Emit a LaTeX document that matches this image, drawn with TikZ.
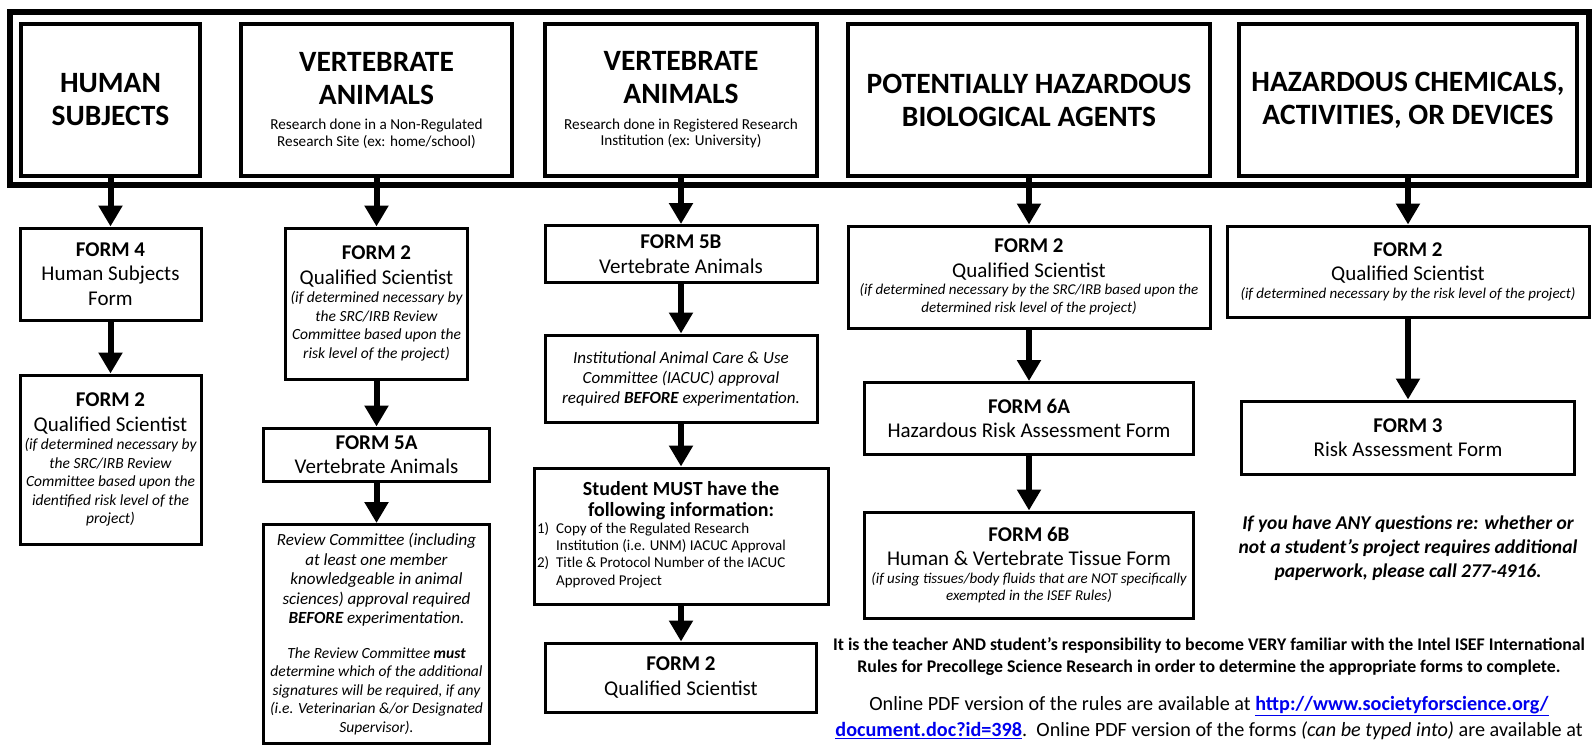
\documentclass[tikz,border=0pt]{standalone}
\usepackage{fontspec}
\setmainfont{Carlito}
\usetikzlibrary{arrows.meta}
\setlength{\parindent}{0pt}

\definecolor{linkblue}{RGB}{0,0,238}

\newcommand{\headtxt}{\fontsize{29.5}{33}\selectfont\bfseries}
\newcommand{\headsub}{\fontsize{15.2}{16.5}\selectfont}
\newcommand{\formtxt}{\fontsize{21}{24.5}\selectfont}
\newcommand{\notebig}{\fontsize{15.5}{18.5}\selectfont\itshape}
\newcommand{\notemid}{\fontsize{15}{17.5}\selectfont\itshape}
\newcommand{\weblink}[1]{\textcolor{linkblue}{\bfseries\underline{#1}}}

\tikzset{
  headbox/.style={draw, line width=4.5pt, align=flush center, inner sep=0pt,
    minimum height=152pt, minimum width=#1, text width=#1},
  formbox/.style={draw, line width=3pt, align=flush center, inner sep=0pt,
    font=\formtxt, minimum width=#1, text width=#1},
  flowarrow/.style={line width=6pt, -{Triangle[width=23pt,length=21pt]}},
  freetext/.style={align=center, inner sep=0pt},
}

\begin{document}
\begin{tikzpicture}[x=1pt, y=-1pt]
    \useasboundingbox (0,0) rectangle (1595,744);

    % frame round the headings
    \draw[line width=5.5pt] (10,12) rectangle (1589,185);

    \node[headbox=179pt] (human) at (110.5,100) {\headtxt HUMAN\\SUBJECTS\par};
    \node[headbox=271pt] (vertnr) at (376.5,100) {{\headtxt VERTEBRATE\\ANIMALS\par}\vskip 9pt
        {\headsub Research done in a Non-Regulated\\Research Site (ex: home/school)\par}};
    \node[headbox=272pt] (vertri) at (681,100) {{\headtxt VERTEBRATE\\ANIMALS\par}\vskip 9pt
        {\headsub Research done in Registered Research\\Institution (ex: University)\par}};
    \node[headbox=362pt] (bio) at (1029,100) {\headtxt POTENTIALLY HAZARDOUS\\BIOLOGICAL AGENTS\par};
    \node[headbox=338pt] (chem) at (1408,100) {\headtxt HAZARDOUS CHEMICALS,\\ACTIVITIES, OR DEVICES\par};

    % human subjects
    \node[formbox=181pt, minimum height=92pt] (formfour) at (110.5,274) {{\bfseries FORM 4}\\Human Subjects\\Form\par};
    \node[formbox=181pt, minimum height=169pt] (qsone) at (110.5,459.5) {{\bfseries FORM 2}\\Qualified Scientist\par
        {\notebig (if determined necessary by\\the SRC/IRB Review\\Committee based upon the\\identified risk level of the\\project)\par}};

    % vertebrate animals, non-regulated site
    \node[formbox=182pt, minimum height=151pt] (qstwo) at (376.5,303.5) {{\bfseries FORM 2}\\Qualified Scientist\par
        {\notebig (if determined necessary by\\the SRC/IRB Review\\Committee based upon the\\risk level of the project)\par}};
    \node[formbox=226pt, minimum height=53pt] (formfivea) at (376.5,454.5) {{\bfseries FORM 5A}\\Vertebrate Animals\par};
    \node[formbox=226pt, anchor=north, inner ysep=9pt] (review) at (376.5,523) {{\fontsize{17}{19.4}\selectfont\itshape
        Review Committee (including\\at least one member\\knowledgeable in animal\\sciences) approval required\\\textbf{BEFORE} experimentation.\par}
        \vskip 16pt
        {\notebig The Review Committee \textbf{must}\\determine which of the additional\\signatures will be required, if any\\(i.e. Veterinarian \&/or Designated\\Supervisor).\par}};

    % vertebrate animals, registered institution
    \node[formbox=272pt, minimum height=57pt] (formfiveb) at (681,254) {{\bfseries FORM 5B}\\Vertebrate Animals\par};
    \node[formbox=272pt, minimum height=87pt] (iacuc) at (681,378.5) {\fontsize{17}{20}\selectfont\itshape
        Institutional Animal Care \& Use\\Committee (IACUC) approval\\required \textbf{BEFORE} experimentation.\par};
    \node[formbox=294pt, minimum height=136pt] (student) at (681,536) {{\fontsize{20}{21}\selectfont\bfseries
        Student MUST have the\\following information:\par}
        {\fontsize{15}{17.3}\selectfont\raggedright\hspace*{3pt}\begin{tabular}{@{}l@{\hspace{7pt}}l@{}}
        1) & Copy of the Regulated Research\\ & Institution (i.e. UNM) IACUC Approval\\
        2) & Title \& Protocol Number of the IACUC\\ & Approved Project\end{tabular}\par}};
    \node[formbox=271pt, minimum height=69pt] (qsthree) at (681,677.5) {{\bfseries FORM 2}\\Qualified Scientist\par};

    % biological agents
    \node[formbox=362pt, minimum height=102pt] (qsfour) at (1029,277) {{\bfseries FORM 2}\\Qualified Scientist\par
        {\notemid (if determined necessary by the SRC/IRB based upon the\\determined risk level of the project)\par}};
    \node[formbox=329pt, minimum height=72pt] (formsixa) at (1029,418.5) {{\bfseries FORM 6A}\\Hazardous Risk Assessment Form\par};
    \node[formbox=329pt, minimum height=106pt] (formsixb) at (1029,565) {{\bfseries FORM 6B}\\Human \& Vertebrate Tissue Form\par
        {\notemid (if using tissues/body fluids that are NOT specifically\\exempted in the ISEF Rules)\par}};

    % chemicals, activities, devices
    \node[formbox=362pt, minimum height=91pt] (qsfive) at (1408,271.5) {{\bfseries FORM 2}\\Qualified Scientist\par
        {\notemid (if determined necessary by the risk level of the project)\par}};
    \node[formbox=333pt, minimum height=73pt] (formthree) at (1408,437.5) {{\bfseries FORM 3}\\Risk Assessment Form\par};

    % arrows
    \draw[flowarrow] (human.south) -- (formfour.north);
    \draw[flowarrow] (formfour.south) -- (qsone.north);
    \draw[flowarrow] (vertnr.south) -- (qstwo.north);
    \draw[flowarrow] (qstwo.south) -- (formfivea.north);
    \draw[flowarrow] (formfivea.south) -- (review.north);
    \draw[flowarrow] (vertri.south) -- (formfiveb.north);
    \draw[flowarrow] (formfiveb.south) -- (iacuc.north);
    \draw[flowarrow] (iacuc.south) -- (student.north);
    \draw[flowarrow] (student.south) -- (qsthree.north);
    \draw[flowarrow] (bio.south) -- (qsfour.north);
    \draw[flowarrow] (qsfour.south) -- (formsixa.north);
    \draw[flowarrow] (formsixa.south) -- (formsixb.north);
    \draw[flowarrow] (chem.south) -- (qsfive.north);
    \draw[flowarrow] (qsfive.south) -- (formthree.north);

    % notes
    \node[freetext, font=\fontsize{19.5}{24}\selectfont\bfseries\itshape] (question) at (1408,548)
        {If you have ANY questions re: whether or\\not a student's project requires additional\\paperwork, please call 277-4916.};
    \node[freetext, font=\fontsize{17.8}{22}\selectfont\bfseries] (rules) at (1209,657)
        {It is the teacher AND student's responsibility to become VERY familiar with the Intel ISEF International\\Rules for Precollege Science Research in order to determine the appropriate forms to complete.};
    \node[freetext, font=\fontsize{20.2}{26}\selectfont] (online) at (1209,718)
        {Online PDF version of the rules are available at \weblink{http://www.societyforscience.org/}\\\weblink{document.doc?id=398}.\ \ Online PDF version of the forms \textit{(can be typed into)} are available at};
\end{tikzpicture}
\end{document}
